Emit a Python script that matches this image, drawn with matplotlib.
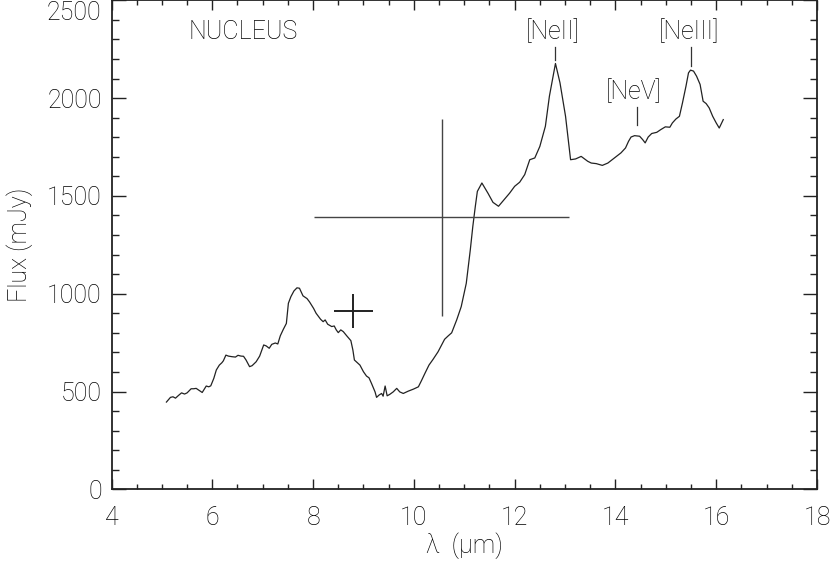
import matplotlib
matplotlib.use("Agg")
import matplotlib.pyplot as plt
from matplotlib.ticker import MultipleLocator, FuncFormatter

plt.rcParams['font.family'] = ['Roboto', 'DejaVu Sans']
plt.rcParams['font.weight'] = 'light'
plt.rcParams['axes.labelweight'] = 'light'

# Spectrum (wavelength in micron, flux in mJy)
wavelength = [5.09, 5.17, 5.22, 5.27, 5.33, 5.39, 5.45, 5.50, 5.58, 5.63, 5.68, 5.75, 5.80,
              5.88, 5.93, 5.97, 6.03, 6.08, 6.14, 6.19, 6.22, 6.27, 6.32, 6.39, 6.46, 6.51,
              6.57, 6.62, 6.67, 6.74, 6.79, 6.87, 6.94, 7.02, 7.07, 7.13, 7.18, 7.25, 7.30,
              7.35, 7.41, 7.47, 7.51, 7.56, 7.62, 7.68, 7.73, 7.80, 7.88, 7.93, 8.01, 8.06,
              8.15, 8.20, 8.24, 8.29, 8.37, 8.42, 8.46, 8.50, 8.55, 8.60, 8.67, 8.75, 8.79,
              8.82, 8.88, 8.93, 9.00, 9.06, 9.11, 9.16, 9.23, 9.26, 9.31, 9.36, 9.39, 9.43,
              9.47, 9.52, 9.59, 9.66, 9.72, 9.79, 9.89, 9.99, 10.09, 10.15, 10.22, 10.30,
              10.38, 10.48, 10.55, 10.61, 10.68, 10.75, 10.85, 10.94, 11.04, 11.12, 11.17,
              11.22, 11.26, 11.35, 11.47, 11.57, 11.68, 11.80, 11.90, 12.00, 12.10, 12.20,
              12.30, 12.40, 12.50, 12.61, 12.69, 12.81, 12.90, 13.01, 13.11, 13.21, 13.32,
              13.45, 13.52, 13.62, 13.74, 13.85, 13.98, 14.11, 14.20, 14.26, 14.31, 14.38,
              14.48, 14.54, 14.59, 14.65, 14.72, 14.82, 14.90, 14.99, 15.08, 15.13, 15.20,
              15.27, 15.33, 15.40, 15.45, 15.49, 15.55, 15.61, 15.68, 15.74, 15.80, 15.86,
              15.93, 16.00, 16.06, 16.14]
flux = [446, 470, 473, 466, 480, 493, 487, 493, 514, 514, 516, 504, 495,
        528, 524, 529, 567, 610, 635, 647, 657, 686, 681, 678, 676, 685,
        681, 680, 661, 627, 632, 652, 681, 738, 733, 721, 741, 748, 743,
        785, 818, 848, 951, 985, 1014, 1030, 1028, 989, 975, 958, 925, 900,
        869, 857, 866, 844, 832, 835, 815, 801, 815, 806, 784, 760, 712,
        661, 647, 635, 601, 579, 570, 541, 498, 470, 482, 490, 476, 528,
        478, 485, 498, 516, 498, 490, 502, 512, 524, 555, 593, 635,
        664, 703, 738, 767, 784, 800, 866, 934, 1053, 1224, 1344,
        1447, 1523, 1566, 1514, 1467, 1447, 1484, 1514, 1549, 1570, 1609,
        1685, 1694, 1753, 1856, 2010, 2177, 2078, 1907, 1685, 1689, 1702,
        1677, 1668, 1665, 1656, 1668, 1694, 1720, 1745, 1779, 1801, 1808,
        1805, 1788, 1771, 1801, 1819, 1825, 1839, 1853, 1851, 1873, 1893,
        1907, 1975, 2061, 2129, 2143, 2138, 2112, 2070, 1984, 1972, 1950,
        1907, 1873, 1847, 1890]

# Photometric points with error bars
phot_x = [10.55, 8.80]
phot_y = [1390, 910]
phot_xerr = [2.53, 0.39]
phot_yerr = [505, 87]

# Line identifications
line_names = ['[NeII]', '[NeV]', '[NeIII]']
line_wave = [12.81, 14.42, 15.50]
line_tick_top = [2260, 1957, 2260]
line_tick_bot = [2195, 1860, 2165]
line_text_y = [2340, 2035, 2340]

FS = 18
tc = '#000000'

fig = plt.figure(figsize=(8.30, 5.61), dpi=100)
ax = fig.add_axes([111.5 / 830, (561 - 489.3) / 561, (817 - 111.5) / 830, 489.0 / 561])

ax.plot(wavelength, flux, color='#222222', lw=0.9)

# big cross
ax.errorbar(phot_x[0], phot_y[0], xerr=phot_xerr[0], yerr=phot_yerr[0],
            fmt='none', ecolor='#444444', elinewidth=1.0, capsize=0)
# small cross
ax.errorbar(phot_x[1], phot_y[1], xerr=phot_xerr[1], yerr=phot_yerr[1],
            fmt='none', ecolor='#222222', elinewidth=1.4, capsize=0)

for name, w, t, b, ty in zip(line_names, line_wave, line_tick_top, line_tick_bot, line_text_y):
    ax.plot([w, w], [b, t], color='#333333', lw=0.9)
    ax.text(w - 0.05, ty, name, ha='center', va='center', fontsize=FS, color=tc,
            fontweight='light')

ax.text(5.52, 2340, 'NUCLEUS', ha='left', va='center', fontsize=FS, color=tc,
        fontweight='light')

ax.set_xlim(4, 18)
ax.set_ylim(0, 2500)
ax.xaxis.set_major_locator(MultipleLocator(2))
ax.xaxis.set_minor_locator(MultipleLocator(0.5))
ax.yaxis.set_major_locator(MultipleLocator(500))
ax.yaxis.set_minor_locator(MultipleLocator(100))
ax.yaxis.set_major_formatter(FuncFormatter(lambda v, p: '' if v >= 2500 else f'{int(v)}'))
ax.annotate('2500', xy=(0, 2500), xycoords=('axes fraction', 'data'),
            xytext=(-10, -1), textcoords='offset pixels', ha='right', va='top',
            fontsize=FS, color=tc, fontweight='light', annotation_clip=False)

ax.tick_params(axis='both', which='both', direction='in', top=True, right=True,
               colors='#222222', labelcolor=tc, labelsize=FS)
ax.tick_params(axis='x', which='major', length=7.5, width=1.0, pad=12)
ax.tick_params(axis='x', which='minor', length=3.8, width=1.0)
ax.tick_params(axis='y', which='major', length=10, width=1.0, pad=7)
ax.tick_params(axis='y', which='minor', length=5, width=1.0)
for s in ax.spines.values():
    s.set_linewidth(1.3)
    s.set_color('#222222')

ax.set_xlabel('λ  (μm)', fontsize=FS, color=tc, fontweight='light', labelpad=2)
ax.set_ylabel('Flux (mJy)', fontsize=FS, color=tc, fontweight='light', labelpad=10)

fig.savefig('out.png', dpi=100)
